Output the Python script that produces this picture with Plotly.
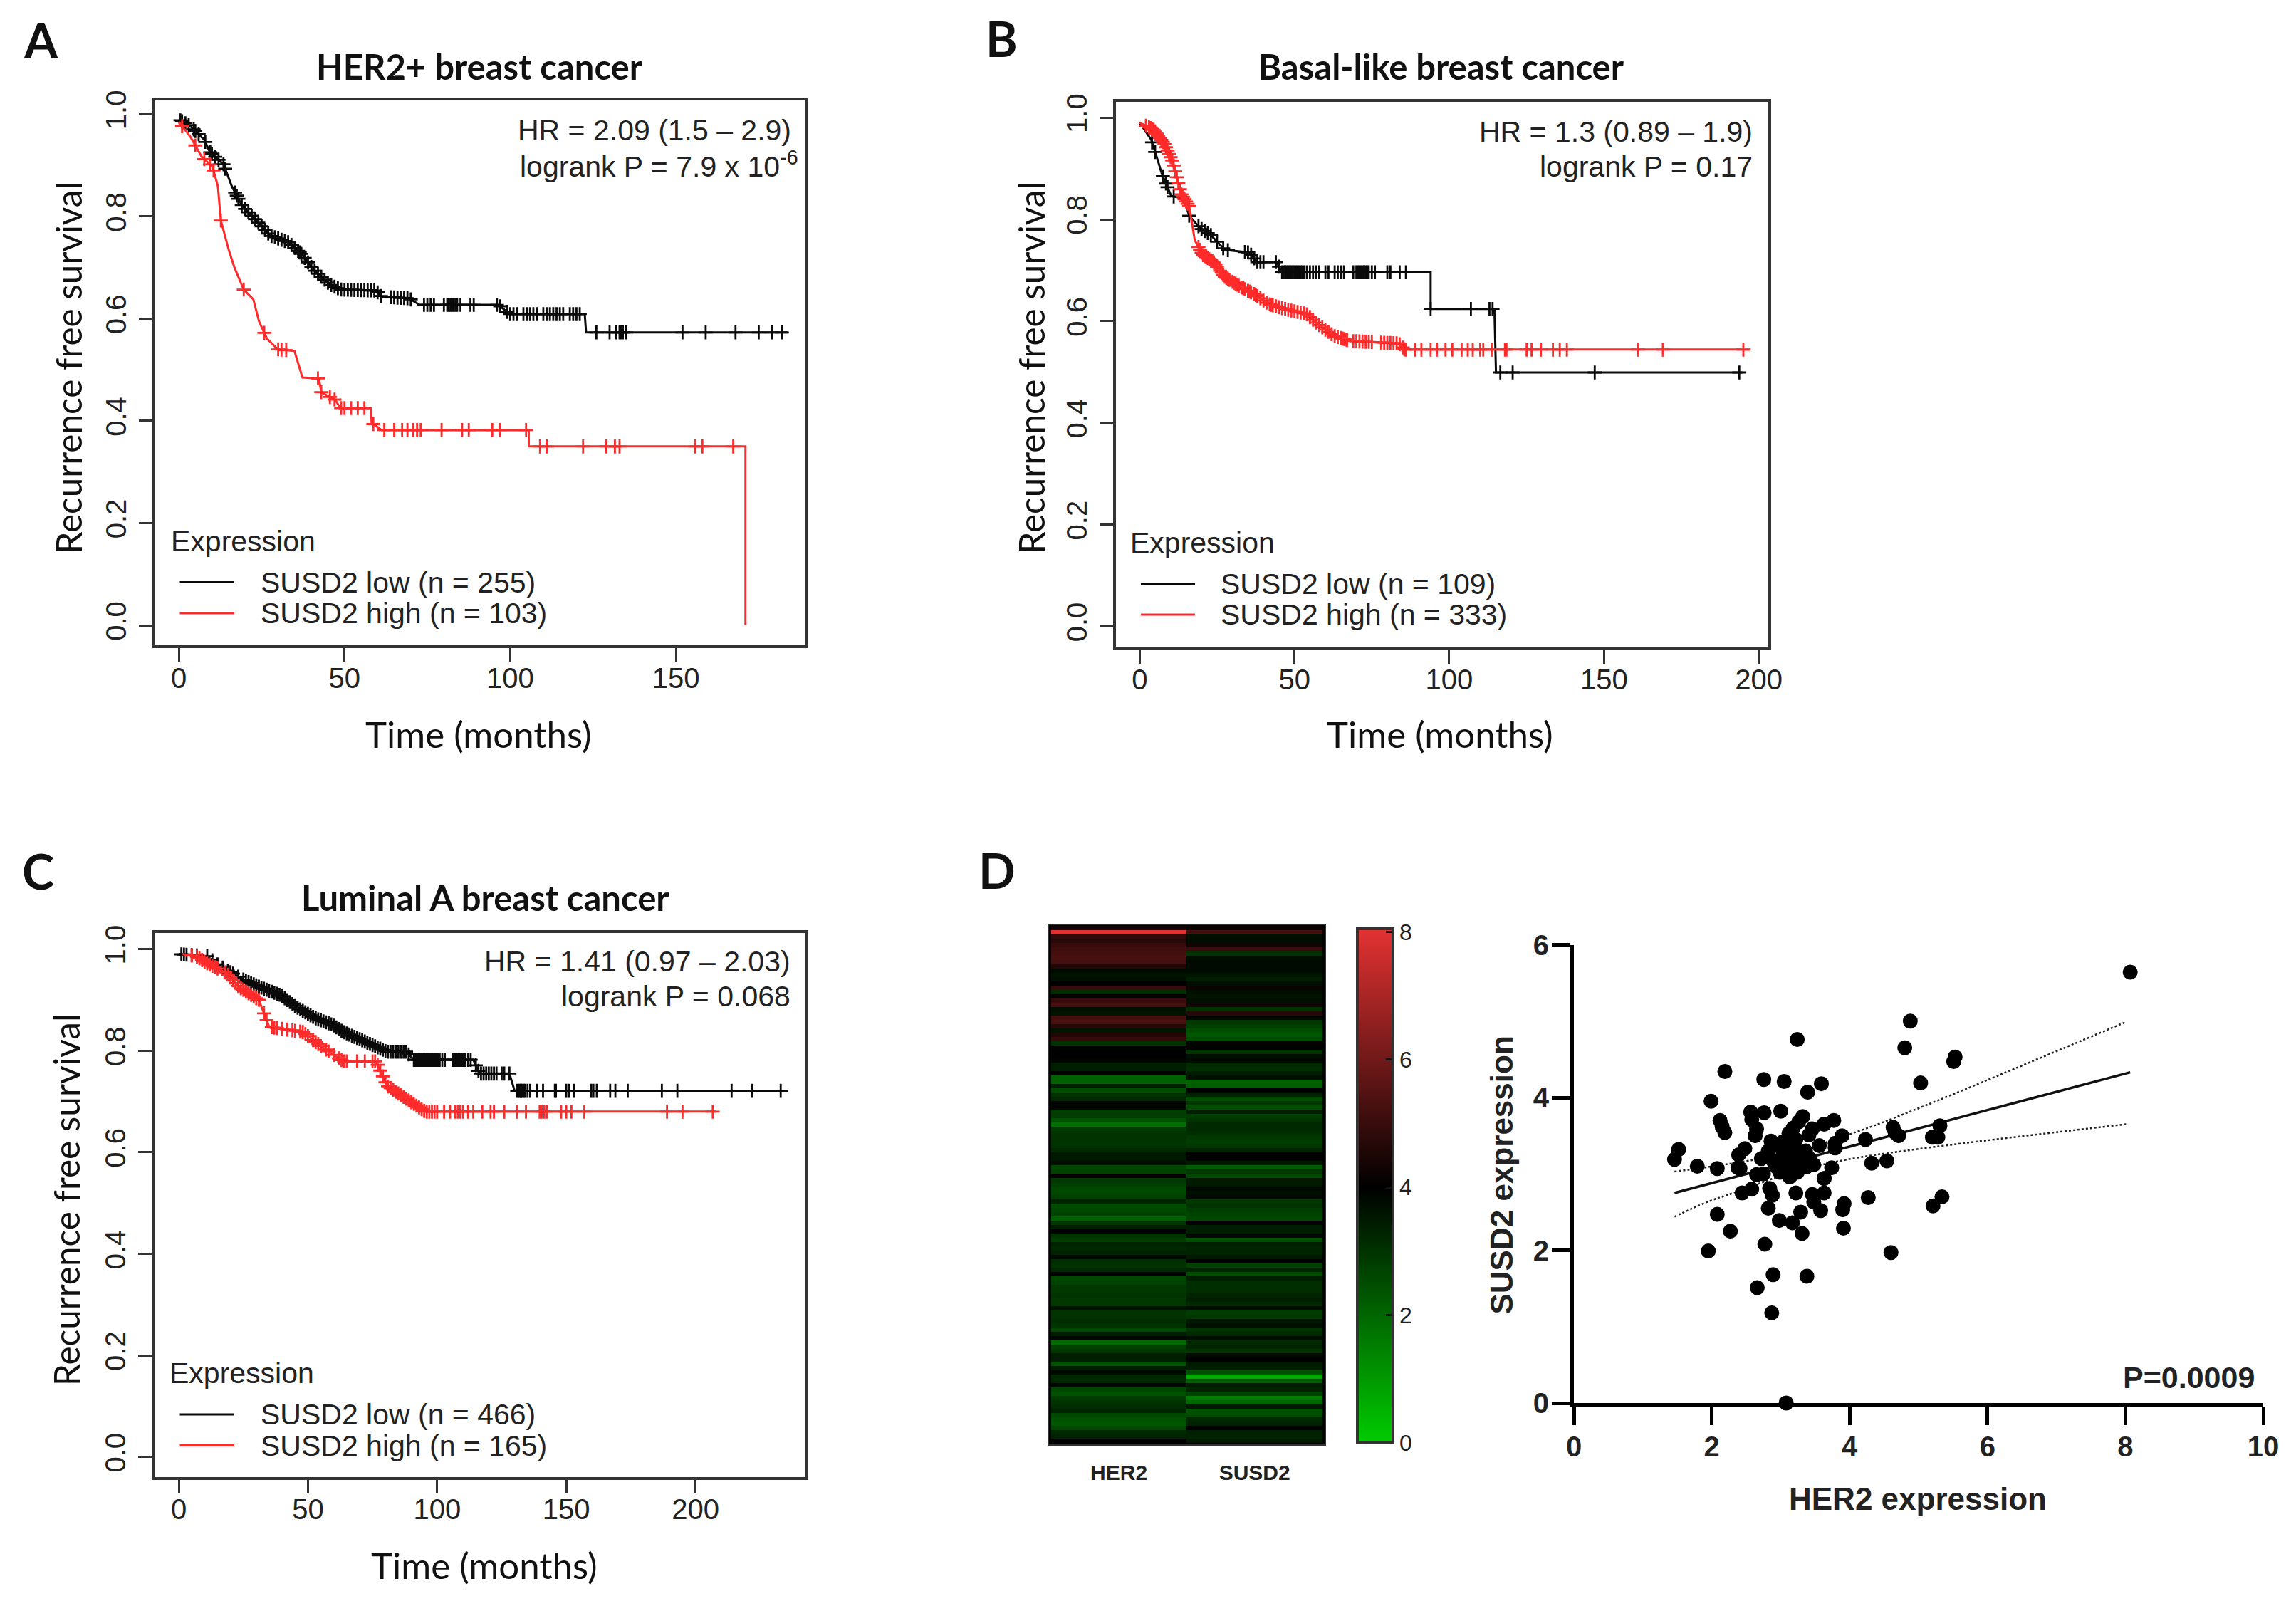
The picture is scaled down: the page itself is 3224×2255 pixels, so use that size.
import numpy as np
import plotly.graph_objects as go

W, H = 3224, 2255

# ---------- Panel A ----------
a_low_t = [0,3.6,7.7,9.4,13.5,16,19.2,23.4,27.5,33.2,37.3,40.6,45.6,48.8,59.5,61.2,69.4,72.7,96.5,99.8,122.5,122.9,183.7]
a_low_s = [.99,.976,.95,.926,.902,.859,.82,.792,.763,.749,.725,.696,.667,.657,.655,.643,.64,.627,.627,.609,.609,.573,.573]
a_high_t = [0,3.6,6.9,10.2,11.8,12.7,15.1,16.8,19.6,22.5,24.2,26.6,29.9,34.9,37.3,42.3,43,47.2,48.8,57.9,58.2,61.2,105.6,105.6,171,171]
a_high_s = [.985,.955,.917,.897,.859,.792,.734,.70,.657,.638,.595,.561,.54,.537,.485,.483,.456,.441,.425,.425,.396,.382,.382,.35,.35,0]
a_low_c = [0.5,1,2,3,4.5,5,6,8,9.5,10,11,12,13.5,14,17,17.5,18,19,20,21,22,23,24,25,26,27,28,29,30,31,32,33,34,35,36,36.5,37,38,39,40,41,42,43,44,45,46,47,48,49,50,51,52,53,54,55,56,57,58,59,60,61,64,65,66,67,68,69,70,74,75,76,77,80,81,81.5,82,82.5,83,83.5,84,85,88,89,96,97,99,100,101,102,104,105,106,107,108,110,111,112,113,114,115,116,118,119,120,121,126,130,132,133,133.5,134,135,152,159,168,175,179,182]
a_high_c = [1,5,7.7,9.4,10.5,12.7,19.6,25.8,30,31,32.4,42,43,45.6,47,49,50,52,54,56,58.7,62,65,67.4,69,70.7,71.9,73,79.3,85.5,87.5,94.6,96.9,104.8,109,111,122,129,131.6,133,155.8,158,167.3]
a_title = "HER2+ breast cancer"
a_hr = "HR = 2.09 (1.5 – 2.9)"
a_p = "logrank P = 7.9 x 10<sup>-6</sup>"
a_legend = ["SUSD2 low (n = 255)", "SUSD2 high (n = 103)"]

# ---------- Panel B ----------
b_low_t = [0,3.7,5.5,7.2,10.2,14.3,16,19.5,23,27.5,35.4,38,44.2,46,94,94,114.6,115.1,194.7]
b_low_s = [.99,.957,.923,.889,.846,.841,.807,.783,.769,.74,.735,.716,.716,.696,.696,.624,.624,.499,.499]
b_high_t = [0,4.6,8.1,10.7,13.4,16,17.8,20.4,23.9,27.5,32.7,37.1,41.5,46.8,53.9,57.4,62.7,68,83.8,85.6,197.4]
b_high_s = [.99,.976,.947,.913,.85,.826,.759,.73,.716,.687,.667,.653,.634,.624,.614,.595,.571,.561,.556,.544,.544]
b_low_c = [4,5,7.5,8.5,9,11,16,19,20,21,22,23,25,27,28.5,34,35,36,37,38,39,40,44,45,46,46.5,47,47.5,48,48.5,49,49.5,50,50.5,51,51.5,52,52.5,53,54,55,56,57,58,60,61,63,64,65,66,69,70,70.5,71,71.5,72,72.5,73,73.5,74,75,76,80,81,84,86,94,107,113,114,116.5,120.5,147,193.7]
b_high_c = [2,3,3.5,4,4.5,5,5.5,6,6.5,7,7.5,8,8.5,9,9.5,10,10.5,11,11.5,12,12.5,13,13.5,14,14.5,15,15.5,16,19,19.5,20,20.5,21,21.5,22,22.5,23,23.5,24,24.5,25,26,26.5,27,27.5,28,28.5,29,30,30.5,31,31.5,32,33,33.5,34,35,35.5,36,37,37.5,38,39,40,41,42,42.5,43,44,45,46,47,48,49,50,51,52,53,54,55,56,57,58,59,60,61,62,63,64,65,65.5,66,66.5,67,69,70,71,72,73,74,75,78,79,80,81,82,83,84,85,85.5,86,89,91,94,96,98.8,101,104,106,107.6,110,111,113.7,118,118.5,125,126.6,129.6,133.5,135.7,138,161,169,195]
b_title = "Basal-like breast cancer"
b_hr = "HR = 1.3 (0.89 – 1.9)"
b_p = "logrank P = 0.17"
b_legend = ["SUSD2 low (n = 109)", "SUSD2 high (n = 333)"]

# ---------- Panel C ----------
c_low_t = [0,11,15.2,20.5,25.7,32,39.5,45.8,53.2,59.5,63.7,72,80.6,88,91,114,116.5,128,130,235.7]
c_low_s = [.99,.986,.969,.953,.938,.924,.909,.885,.863,.851,.837,.818,.798,.798,.782,.782,.755,.755,.721,.721]
c_high_t = [1.5,6.8,11,18.4,23.6,31,35,47.9,55.3,63.7,76.4,80.6,89,95.4,208]
c_high_s = [.99,.986,.972,.953,.924,.90,.847,.837,.808,.779,.779,.731,.702,.68,.68]
c_low_c = [1,2,3,5,7,11,13,15,17,19,20,21,23,25,26,27,28,29,30,31,32,33,34,35,36,37,38,39,40,41,42,43,44,45,46,47,48,49,50,51,52,53,54,55,56,57,58,59,60,61,62,63,64,65,66,67,68,69,70,71,72,73,74,75,76,77,78,79,80,81,82,83,84,85,86,87,88,89,91,91.5,92,92.5,93,93.5,94,94.5,95,95.5,96,96.5,97,97.5,98,98.5,99,99.5,100,100.5,101,102,103,106,106.5,107,107.5,108,108.5,109,109.5,110,110.5,111,112,113,115,116,117,118,119,120,121,122,123,125,126,128,131,131.5,132,132.5,133,133.5,134,135,136,138.6,141,145.6,146,150,151,153,159.7,160.5,161.8,167,169,173.8,187,193,214,222,233]
c_high_c = [5,7,8,9,10,11,12,13,14,15,18,19,20,21,22,23,24,25,26,27,28,29,30,31,33,34,36,37,38,40,42,44,45,47,48,49,50,52,53,54,55,57,58,60,62,63,64,65,69,72,75,76,77,78,79,80,81,82,83,84,85,86,87,88,89,90,91,92,93,94,95,96,97,98,99,100,102.7,105,107,108,109,110,112,114,117.5,120.7,122,126,131,134.4,139.7,140.5,141.5,142.5,148,150,152,157,189,195,206.7]
c_title = "Luminal A breast cancer"
c_hr = "HR = 1.41 (0.97 – 2.03)"
c_p = "logrank P = 0.068"
c_legend = ["SUSD2 low (n = 466)", "SUSD2 high (n = 165)"]

km_yticks = [0.0, 0.2, 0.4, 0.6, 0.8, 1.0]
ab_xticks = [0, 50, 100, 150]
b_xticks = [0, 50, 100, 150, 200]

# ---------- Panel D heatmap ----------
heat_cols = ["HER2", "SUSD2"]
her2_heat = [4.3,8.0,4.9,4.7,5.0,5.1,5.2,5.3,5.2,4.6,3.8,3.6,3.7,4.0,5.0,3.1,4.1,5.0,5.3,3.7,3.6,5.2,5.3,4.7,3.6,4.6,4.9,3.0,
 3.9,4.0,4.0,3.9,3.4,3.4,3.9,2.1,2.1,3.4,2.5,3.0,3.2,3.9,3.9,2.8,2.8,2.4,1.8,2.8,3.0,3.0,3.0,3.0,3.2,3.5,3.5,3.7,2.6,
 2.7,4.1,2.9,2.8,2.6,2.6,2.8,3.3,2.5,2.6,2.7,2.1,2.9,3.4,4.0,3.0,2.8,3.3,3.2,3.3,3.8,3.1,3.0,3.2,4.0,2.6,2.7,2.9,2.9,3.0,
 2.9,2.9,3.6,3.0,3.0,3.1,3.0,2.6,3.4,3.8,1.9,2.7,2.9,3.4,3.4,2.4,3.4,3.8,3.2,3.2,3.8,2.6,2.4,2.8,3.0,3.1,3.3,2.6,2.4,2.3,2.6,3.2,3.3,4.0]
susd2_heat = [4.2,5.2,3.7,3.75,4.3,5.0,3.0,3.7,3.8,3.8,3.8,3.6,3.4,3.7,4.2,3.7,3.6,3.7,4.3,3.0,4.7,3.9,2.9,2.8,2.5,2.3,2.5,3.9,
 4.0,3.0,3.7,3.8,3.2,3.1,3.4,3.7,2.1,2.2,4.0,3.4,2.5,2.9,2.5,3.4,2.8,3.0,3.2,3.2,3.1,2.9,2.8,2.9,3.3,4.0,4.0,3.5,2.2,
 2.9,2.6,3.5,3.5,3.8,3.7,3.8,2.9,3.0,2.8,2.7,2.6,4.0,3.4,3.4,3.8,2.4,3.4,3.3,3.3,3.5,4.0,2.7,3.3,2.5,3.4,3.1,3.1,3.1,3.3,
 3.4,3.2,3.7,2.8,2.9,3.5,3.7,3.0,3.2,3.7,3.2,3.3,3.0,3.8,4.0,3.5,3.4,2.4,0.7,2.2,3.4,3.3,2.7,1.6,2.0,3.5,2.4,2.5,3.2,3.3,4.0,3.4,3.3,3.5]
heat_colorscale = [[0, "#00cc00"], [0.4969, "#000000"], [1, "#e43232"]]
cbar_ticks = [0, 2, 4, 6, 8]

# ---------- Panel D scatter ----------
her2_expr = [8.07,4.88,4.80,3.24,5.53,5.51,5.03,2.19,2.755,3.05,3.59,3.39,1.99,2.565,2.58,2.76,3.0,2.12,2.15,2.19,3.32,3.26,3.18,3.12,3.77,3.63,3.46,3.41,2.65,2.63,3.89,3.79,3.79,3.56,4.23,4.63,4.66,4.71,5.31,5.20,5.28,
 1.52,1.46,1.79,2.08,2.38,2.39,2.48,2.41,2.86,2.82,3.03,3.24,3.36,2.72,2.89,3.1,3.2,3.48,3.37,2.65,2.99,3.13,3.24,3.03,3.2,3.74,3.63,4.32,4.54,
 2.44,2.58,2.75,2.84,2.88,2.82,2.98,3.17,3.29,3.31,3.22,3.46,3.63,3.63,3.48,3.58,3.92,3.90,3.91,4.27,5.34,5.21,2.08,2.27,2.77,1.95,4.60,2.89,3.38,2.66,2.87,3.08,
 3.05,3.2,3.34,3.15,3.0,3.1,3.28,3.05,2.95,3.22,3.15,3.3,2.92,3.42]
susd2_expr = [5.64,5.0,4.65,4.76,4.53,4.47,4.19,4.34,4.236,4.21,4.18,4.07,3.95,3.81,3.71,3.80,3.82,3.70,3.62,3.54,3.75,3.68,3.60,3.53,3.70,3.65,3.59,3.51,3.59,3.50,3.50,3.40,3.34,3.37,3.45,3.61,3.54,3.50,3.63,3.48,3.48,
 3.32,3.19,3.10,3.07,3.08,3.25,3.33,3.07,3.43,3.30,3.30,3.30,3.30,3.20,3.17,3.2,3.14,3.12,3.09,2.99,3.02,2.96,3.02,3.42,3.42,3.08,2.94,3.14,3.17,
 2.75,2.80,3.0,2.81,2.72,2.55,2.39,2.36,2.50,2.22,2.75,2.73,2.75,2.94,2.63,2.52,2.61,2.53,2.29,2.69,2.70,2.58,2.47,2.25,2.08,1.99,1.97,1.68,1.66,1.51,1.18,0.0,
 3.25,3.25,3.22,3.38,3.12,3.08,3.15,3.35,3.08,3.45,2.98,3.28,3.38,3.2]
fit_x = [1.46, 8.07]
fit_y = [2.75, 4.33]
ci_up_x = [1.46, 3.1, 4.10, 5.03, 8.01]
ci_up_y = [3.03, 3.27, 3.55, 3.87, 4.99]
ci_lo_x = [1.46, 1.93, 2.31, 3.1, 3.86, 5.03, 8.01]
ci_lo_y = [2.44, 2.63, 2.75, 3.0, 3.17, 3.33, 3.65]
scatter_note = "P=0.0009"

# ---------- style ----------
BLACK, RED = "#0a0a0a", "#ff2a2a"
FRAME = "#333333"
SANS = "Liberation Sans"
HUM = "Lato"


def px_x(x):
    return x / W


def px_y(y):
    return 1 - y / H


def on_curve(c, t, s):
    return list(np.interp(c, t, s))


fig = go.Figure()
layout = dict(
    width=W, height=H, margin=dict(l=0, r=0, t=0, b=0, autoexpand=False),
    paper_bgcolor="white", plot_bgcolor="white", showlegend=False,
)
annotations = []
shapes = []


def text(x, y, s, size, family=SANS, xanchor="center", color="#222222", bold=False, angle=0):
    annotations.append(dict(
        x=px_x(x), y=px_y(y), xref="paper", yref="paper", text=f"<b>{s}</b>" if bold else s,
        showarrow=False, xanchor=xanchor, yanchor="middle", textangle=angle,
        font=dict(family=family, size=size, color=color),
    ))


def km_panel(i, frame, xr, yr, xticks, low, high, low_c, high_c, geo):
    sfx = "" if i == 1 else str(i)
    xa, ya = "x" + sfx, "y" + sfx
    for (t, s, c, col) in ((low[0], low[1], low_c, BLACK), (high[0], high[1], high_c, RED)):
        fig.add_trace(go.Scatter(x=t, y=s, mode="lines", xaxis=xa, yaxis=ya, hoverinfo="skip",
                                 line=dict(color=col, width=3)))
        fig.add_trace(go.Scatter(x=c, y=on_curve(c, t, s), mode="markers", xaxis=xa, yaxis=ya, hoverinfo="skip",
                                 marker=dict(symbol="cross-thin", size=14, color=col, line=dict(color=col, width=2.8))))
    x0, x1, y0, y1 = frame
    layout["xaxis" + sfx] = dict(
        domain=[px_x(x0), px_x(x1)], range=xr, anchor=ya, tickmode="array", tickvals=xticks,
        showgrid=False, zeroline=False, showline=True, mirror=True, linecolor=FRAME, linewidth=3.5,
        ticks="outside", ticklen=20, tickwidth=3, tickcolor=FRAME, ticklabelstandoff=-12,
        tickfont=dict(family=SANS, size=40, color="#222222"),
    )
    layout["yaxis" + sfx] = dict(
        domain=[px_y(y1), px_y(y0)], range=yr, anchor=xa, tickmode="array", tickvals=km_yticks,
        ticktext=[f"{v:.1f}" for v in km_yticks], tickangle=-90,
        showgrid=False, zeroline=False, showline=True, mirror=True, linecolor=FRAME, linewidth=3.5,
        ticks="outside", ticklen=19, tickwidth=3, tickcolor=FRAME, ticklabelstandoff=2,
        tickfont=dict(family=SANS, size=40, color="#222222"),
    )
    g = geo
    text(g["title"][0], g["title"][1], g["title_s"], 49, HUM, bold=True, color="#111111")
    text(g["xt"][0], g["xt"][1], "Time (months)", 51, HUM, color="#111111")
    text(g["yt"][0], g["yt"][1], "Recurrence free survival", 49.5, HUM, color="#111111", angle=-90)
    text(g["ann"][0], g["ann"][1], g["hr"], 41, xanchor="right")
    text(g["ann2"][0], g["ann2"][1], g["p"], 41, xanchor="right")
    text(g["expr"][0], g["expr"][1], "Expression", 41, xanchor="left")
    lx0, lx1, txt = g["leg"]
    for yy, col, lab in zip(g["legy"], (BLACK, RED), g["labs"]):
        shapes.append(dict(type="line", xref="paper", yref="paper", x0=px_x(lx0), x1=px_x(lx1),
                           y0=px_y(yy), y1=px_y(yy), line=dict(color=col, width=3)))
        text(txt, yy, lab, 41, xanchor="left")


km_panel(1, (218, 1131, 141, 906), [-7.1, 189.1], [-0.039, 1.027], ab_xticks,
         (a_low_t, a_low_s), (a_high_t, a_high_s), a_low_c, a_high_c,
         dict(title=(673.5, 93), title_s=a_title, xt=(672, 1030), yt=(96, 516.5), ann=(1113, 182.5), hr=a_hr,
              ann2=(1123, 230.7), p=a_p, expr=(238, 760), leg=(252.5, 329, 364), legy=(817.5, 861), labs=a_legend))
km_panel(2, (1566.6, 2482.7, 143, 908), [-7.75, 203], [-0.04, 1.031], b_xticks,
         (b_low_t, b_low_s), (b_high_t, b_high_s), b_low_c, b_high_c,
         dict(title=(2023.5, 93), title_s=b_title, xt=(2022, 1030), yt=(1448, 516.5), ann=(2462.5, 184.6), hr=b_hr,
              ann2=(2462.5, 234), p=b_p, expr=(1585, 762), leg=(1602, 1678, 1712), legy=(819.5, 863), labs=b_legend))
km_panel(3, (216.6, 1130.3, 1309.8, 2073.6), [-9.5, 242.4], [-0.039, 1.032], b_xticks,
         (c_low_t, c_low_s), (c_high_t, c_high_s), c_low_c, c_high_c,
         dict(title=(681, 1259.5), title_s=c_title, xt=(680, 2197.5), yt=(93, 1685), ann=(1112, 1350.4), hr=c_hr,
              ann2=(1112, 1399), p=c_p, expr=(236, 1927.6), leg=(252.5, 329, 364), legy=(1986, 2029.5), labs=c_legend))

# Heatmap
fig.add_trace(go.Heatmap(
    z=np.column_stack([her2_heat, susd2_heat]).tolist(), x=[0, 1], y=list(range(len(her2_heat))),
    xaxis="x4", yaxis="y4", zmin=0, zmax=8.05, colorscale=heat_colorscale, hoverinfo="skip", xgap=0, ygap=0,
    colorbar=dict(
        x=px_x(1906), xanchor="left", xref="paper", y=px_y(1665), yanchor="middle", yref="paper",
        lenmode="pixels", len=722, thicknessmode="pixels", thickness=50, xpad=0, ypad=0,
        outlinecolor="#333333", outlinewidth=4, tickmode="array", tickvals=cbar_ticks,
        ticks="inside", ticklen=12, tickcolor="#111111", tickwidth=3, tickprefix="\u00a0\u00a0\u00a0",
        tickfont=dict(family=SANS, size=32, color="#222222"), bgcolor="white",
    ),
))
layout["xaxis4"] = dict(
    domain=[px_x(1473), px_x(1860.4)], range=[-0.515, 1.518], anchor="y4", tickmode="array", tickvals=[0, 1],
    ticktext=[f"<b>{c}</b>" for c in heat_cols], showgrid=False, zeroline=False, showline=True, mirror=True,
    linecolor="#333333", linewidth=2, ticks="", ticklabelstandoff=12,
    tickfont=dict(family=SANS, size=30, color="#222222"),
)
layout["yaxis4"] = dict(
    domain=[px_y(2028), px_y(1298.5)], range=[120.8, -0.75], anchor="x4", showticklabels=False, ticks="",
    showgrid=False, zeroline=False, showline=True, mirror=True, linecolor="#333333", linewidth=2,
    plot_bgcolor=None,
) if False else dict(
    domain=[px_y(2028), px_y(1298.5)], range=[120.8, -0.75], anchor="x4", showticklabels=False, ticks="",
    showgrid=False, zeroline=False, showline=True, mirror=True, linecolor="#333333", linewidth=2,
)
# the black gutter round the heatmap cells
shapes.append(dict(type="rect", xref="x4 domain", yref="y4 domain", x0=0, x1=1, y0=0, y1=1,
                   fillcolor="black", line=dict(width=0), layer="below"))

# Scatter
fig.add_trace(go.Scatter(x=ci_up_x, y=ci_up_y, mode="lines", xaxis="x5", yaxis="y5", hoverinfo="skip",
                         line=dict(color="#222222", width=2.5, dash="dot", shape="spline")))
fig.add_trace(go.Scatter(x=ci_lo_x, y=ci_lo_y, mode="lines", xaxis="x5", yaxis="y5", hoverinfo="skip",
                         line=dict(color="#222222", width=2.5, dash="dot", shape="spline")))
fig.add_trace(go.Scatter(x=fit_x, y=fit_y, mode="lines", xaxis="x5", yaxis="y5", hoverinfo="skip",
                         line=dict(color="#111111", width=3.5)))
fig.add_trace(go.Scatter(x=her2_expr, y=susd2_expr, mode="markers", xaxis="x5", yaxis="y5", hoverinfo="skip",
                         cliponaxis=False, marker=dict(color="black", size=21)))
layout["xaxis5"] = dict(
    domain=[px_x(2210), px_x(3178)], range=[0, 10], anchor="y5", tickmode="array", tickvals=[0, 2, 4, 6, 8, 10],
    ticktext=[f"<b>{v}</b>" for v in [0, 2, 4, 6, 8, 10]], showgrid=False, zeroline=False, showline=True,
    linecolor="black", linewidth=5, ticks="outside", ticklen=26, tickwidth=4.5, tickcolor="black",
    ticklabelstandoff=-4, tickfont=dict(family=SANS, size=40, color="#222222"),
)
layout["yaxis5"] = dict(
    domain=[px_y(1970), px_y(1326.5)], range=[0, 6], anchor="x5", tickmode="array", tickvals=[0, 2, 4, 6],
    ticktext=[f"<b>{v}</b>" for v in [0, 2, 4, 6]], showgrid=False, zeroline=False, showline=True,
    linecolor="black", linewidth=5, ticks="outside", ticklen=26, tickwidth=4.5, tickcolor="black",
    ticklabelstandoff=-4, tickfont=dict(family=SANS, size=40, color="#222222"),
)
text(2693, 2104, "HER2 expression", 44, bold=True)
text(2108, 1650.5, "SUSD2 expression", 44, bold=True, angle=-90)
text(3073, 1934, scatter_note, 43, bold=True)

# Panel letters
for (lx, ly, s) in ((57, 55, "A"), (1406, 54, "B"), (54, 1222, "C"), (1400, 1221, "D")):
    text(lx, ly, s, 68, HUM, bold=True, color="#111111")

layout["annotations"] = annotations
layout["shapes"] = shapes
fig.update_layout(**layout)
fig.write_html("out.html", config={"displayModeBar": False},
               post_script="document.body.style.margin='0';")
